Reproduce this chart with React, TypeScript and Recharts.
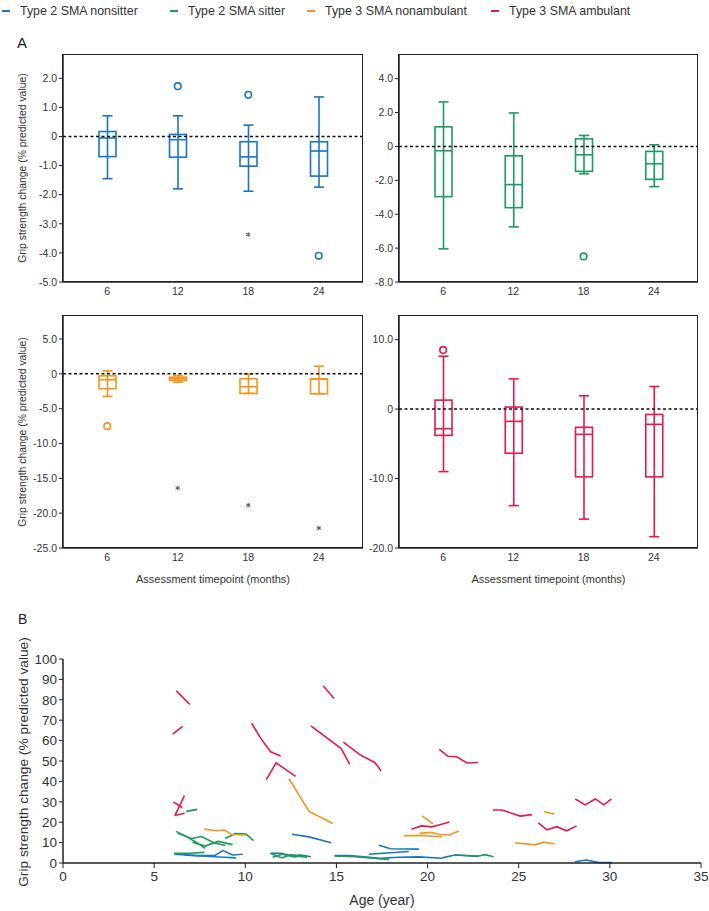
import React from 'react'
import {
  ComposedChart, Bar, Scatter, XAxis, YAxis, ReferenceLine,
  LineChart, Line,
} from 'recharts'

const FONT = '"Liberation Sans", Arial, sans-serif'
const AXIS = '#222'
const TEXT = '#333'

const BLUE = '#1a75c2'
const GREEN = '#1b9b5e'
const ORANGE = '#f7941d'
const RED = '#e8184d'

const groups = ['Type 2 SMA nonsitter', 'Type 2 SMA sitter', 'Type 3 SMA nonambulant', 'Type 3 SMA ambulant']
const groupColors = [BLUE, GREEN, ORANGE, RED]

// panel A: box plot stats per timepoint (months)
const timepoints = ['6', '12', '18', '24']

const nonsitterMin = [-1.45, -1.8, -1.88, -1.74]
const nonsitterQ1 = [-0.69, -0.71, -1.02, -1.36]
const nonsitterMed = [-0.05, -0.11, -0.7, -0.5]
const nonsitterQ3 = [0.17, 0.07, -0.18, -0.18]
const nonsitterMax = [0.71, 0.71, 0.39, 1.36]
const nonsitterCircles = [{ t: '12', v: 1.73 }, { t: '18', v: 1.43 }, { t: '24', v: -4.1 }]
const nonsitterStars = [{ t: '18', v: -3.37 }]

const sitterMin = [-6.04, -4.75, -1.61, -2.37]
const sitterQ1 = [-2.96, -3.61, -1.47, -1.94]
const sitterMed = [-0.25, -2.25, -0.49, -1.02]
const sitterQ3 = [1.16, -0.55, 0.45, -0.29]
const sitterMax = [2.63, 1.98, 0.65, 0.1]
const sitterCircles = [{ t: '18', v: -6.49 }]
const sitterStars: { t: string; v: number }[] = []

const nonambMin = [-3.24, -1.19, -2.81, -2.86]
const nonambQ1 = [-2.14, -0.95, -2.81, -2.86]
const nonambMed = [-0.86, -0.7, -1.86, -0.75]
const nonambQ3 = [-0.29, -0.48, -0.71, -0.71]
const nonambMax = [0.43, -0.25, -0.05, 1.1]
const nonambCircles = [{ t: '6', v: -7.52 }]
const nonambStars = [{ t: '12', v: -16.38 }, { t: '18', v: -18.86 }, { t: '24', v: -22.14 }]

const ambMin = [-9.0, -13.9, -15.84, -18.37]
const ambQ1 = [-3.78, -6.36, -9.76, -9.76]
const ambMed = [-2.82, -1.77, -3.64, -2.2]
const ambQ3 = [1.29, 0.29, -2.63, -0.77]
const ambMax = [7.61, 4.35, 1.91, 3.25]
const ambCircles = [{ t: '6', v: 8.52 }]
const ambStars: { t: string; v: number }[] = []

const ticksTL = [-5, -4, -3, -2, -1, 0, 1, 2]
const ticksTR = [-8, -6, -4, -2, 0, 2, 4]
const ticksBL = [-25, -20, -15, -10, -5, 0, 5]
const ticksBR = [-20, -10, 0, 10]

// panel B: individual trajectories [age, value]
type Pt = [number, number]
const nonsitterLines: Pt[][] = [
  [[6.12, 4.3], [7.4, 3.6], [8.31, 3.6], [8.77, 6.1], [9.31, 3.9], [9.86, 4.3]],
  [[6.67, 3.9], [7.76, 3.3], [8.86, 2.8], [9.5, 2.5]],
  [[11.37, 4.8], [11.96, 4.8], [12.5, 3.6], [13.05, 3.9], [13.6, 3.1]],
  [[12.56, 14.1], [13.5, 12.8], [14.71, 9.9]],
  [[14.9, 3.6], [15.7, 3.6], [16.5, 3.0], [17.4, 2.3], [18.4, 2.8], [19.5, 3.0], [20.8, 2.3]],
  [[20.8, 2.5], [21.5, 3.9], [22.8, 3.2]],
  [[16.78, 4.3], [18.97, 5.6]],
  [[17.33, 8.7], [17.97, 7.0], [19.52, 6.8]],
  [[28.08, 0.6], [28.69, 1.5], [29.36, 0.3], [30.13, 0.2]],
]
const sitterLines: Pt[][] = [
  [[6.76, 25.3], [7.36, 26.3]],
  [[6.2, 15.5], [6.8, 12.8], [7.3, 10.2], [7.8, 7.2]],
  [[6.3, 14.6], [7.05, 12.0], [7.6, 13.0], [8.3, 9.8], [8.9, 8.6]],
  [[7.1, 10.2], [7.8, 8.3], [8.5, 10.6], [9.3, 9.0]],
  [[8.9, 12.0], [9.45, 14.4], [10.05, 14.2], [10.45, 11.0]],
  [[6.09, 4.8], [6.94, 4.8], [7.76, 5.2]],
  [[11.4, 4.6], [12.0, 2.5], [12.5, 4.1], [13.0, 3.2], [13.4, 2.8]],
  [[11.5, 2.8], [12.0, 4.3], [12.7, 3.0], [13.3, 3.7]],
  [[14.9, 3.4], [16.06, 3.1], [17.33, 2.1], [17.88, 1.8]],
  [[21.52, 3.9], [22.8, 3.4], [23.16, 4.1], [23.62, 3.1]],
]
const nonambLines: Pt[][] = [
  [[12.4, 41.3], [13.5, 25.3], [14.8, 19.4]],
  [[7.75, 16.6], [8.4, 15.8], [8.85, 16.1], [9.25, 14.0], [10.05, 13.8]],
  [[19.7, 23.1], [20.3, 19.2]],
  [[18.7, 13.4], [19.56, 13.5], [20.8, 12.9]],
  [[19.56, 14.5], [20.16, 15.0], [20.7, 14.0], [21.21, 13.7], [21.71, 15.7]],
  [[24.8, 9.9], [25.9, 8.9], [26.35, 10.2], [26.94, 9.4]],
  [[26.39, 25.1], [26.94, 24.0]],
]
const ambLines: Pt[][] = [
  [[6.22, 84.4], [6.96, 77.7]],
  [[6.02, 63.2], [6.56, 67.0]],
  [[6.05, 30.0], [6.55, 27.1]],
  [[6.15, 23.5], [6.66, 33.0]],
  [[6.12, 23.3], [6.67, 24.4]],
  [[10.35, 68.5], [10.85, 61.1], [11.39, 54.5], [11.94, 52.4]],
  [[11.15, 40.9], [11.69, 49.1], [12.76, 42.5]],
  [[14.27, 86.9], [14.86, 80.8]],
  [[13.6, 67.2], [15.26, 56.1], [15.73, 48.4]],
  [[15.38, 59.2], [16.3, 53.0], [17.1, 49.3], [17.45, 45.2]],
  [[20.64, 55.7], [21.12, 52.3], [21.6, 52.1], [22.16, 49.0], [22.78, 49.3]],
  [[19.12, 16.6], [19.66, 18.2], [20.22, 17.7], [20.68, 18.8], [21.2, 20.1]],
  [[23.58, 26.0], [24.08, 26.0], [25.08, 23.0], [25.73, 23.7]],
  [[26.08, 19.7], [26.55, 16.3], [27.09, 17.8], [27.63, 15.8], [28.18, 18.2]],
  [[28.1, 31.4], [28.64, 28.5], [29.2, 31.4], [29.67, 28.5], [30.09, 31.4]],
]
const ageTicks = [0, 5, 10, 15, 20, 25, 30, 35]
const pctTicks = [0, 10, 20, 30, 40, 50, 60, 70, 80, 90, 100]

const yLabel = 'Grip strength change (% predicted value)'

const makeRows = (mn: number[], q1: number[], md: number[], q3: number[], mx: number[]) =>
  timepoints.map((t, i) => ({ t, min: mn[i], q1: q1[i], med: md[i], q3: q3[i], max: mx[i] }))

const fmt = (v: number) => (v === 0 ? '0' : v.toFixed(1))

const BoxShape = (props: any) => {
  const { x, y, width, height, payload, color } = props
  const top = Math.min(y, y + height)
  const h = Math.abs(height)
  const { min, max, q1, q3, med } = payload
  // the bar spans [min, max]; place quartiles on that same linear scale
  const py = (v: number) => top + (h * (max - v)) / (max - min)
  const cx = x + width / 2
  const cap = 5
  return (
    <g stroke={color} strokeWidth={1.6} fill="none">
      <line x1={cx} x2={cx} y1={top} y2={top + h} />
      <line x1={cx - cap} x2={cx + cap} y1={top} y2={top} />
      <line x1={cx - cap} x2={cx + cap} y1={top + h} y2={top + h} />
      <rect x={x} y={py(q3)} width={width} height={Math.max(py(q1) - py(q3), 0.5)} />
      <line x1={x} x2={x + width} y1={py(med)} y2={py(med)} />
    </g>
  )
}

const CircleShape = (props: any) => (
  <circle cx={props.cx} cy={props.cy} r={3.3} fill="#fff" stroke={props.color} strokeWidth={1.6} />
)

const StarShape = (props: any) => {
  const { cx, cy } = props
  const r = 2.2
  return (
    <g stroke="#555" strokeWidth={1}>
      <line x1={cx} x2={cx} y1={cy - r} y2={cy + r} />
      <line x1={cx - r} x2={cx + r} y1={cy - r * 0.6} y2={cy + r * 0.6} />
      <line x1={cx - r} x2={cx + r} y1={cy + r * 0.6} y2={cy - r * 0.6} />
    </g>
  )
}

interface PanelProps {
  rows: any[]
  circles: { t: string; v: number }[]
  stars: { t: string; v: number }[]
  color: string
  ticks: number[]
  domain: [number, number]
  left: number
  top: number
  width: number
  xLabel?: boolean
}

const BoxPanel = ({ rows, circles, stars, color, ticks, domain, left, top, width, xLabel }: PanelProps) => {
  const axisH = xLabel ? 36 : 20
  const plotH = xLabel ? 232 : 227
  const yW = 63
  const mTop = 5
  const mRight = 2
  return (
    <div style={{ position: 'absolute', left, top }}>
      <ComposedChart width={width} height={mTop + plotH + axisH + 2} data={rows}
        margin={{ top: mTop, right: mRight, bottom: 2, left: 0 }}>
        <XAxis dataKey="t" type="category" allowDuplicatedCategory={false}
          padding={{ left: 9, right: 9 }} height={axisH}
          axisLine={{ stroke: AXIS, strokeWidth: 1.5 }} tickLine={false} tickSize={4} tickMargin={2}
          tick={{ fill: TEXT, fontSize: 10.5, fontFamily: FONT }}
          label={xLabel ? { value: 'Assessment timepoint (months)', position: 'insideBottom', offset: 1, fill: TEXT, fontSize: 11, fontFamily: FONT } : undefined} />
        <YAxis type="number" domain={domain} ticks={ticks} allowDataOverflow width={yW}
          axisLine={{ stroke: AXIS, strokeWidth: 1.5 }} tickLine={{ stroke: AXIS }} tickSize={4} tickMargin={2}
          tickFormatter={fmt} interval={0}
          tick={{ fill: TEXT, fontSize: 10.5, fontFamily: FONT }} />
        <ReferenceLine y={0} stroke="#111" strokeWidth={1.5} strokeDasharray="3 2.5" />
        <Bar dataKey={(d: any) => [d.min, d.max]} barSize={17} isAnimationActive={false}
          shape={(p: any) => <BoxShape {...p} color={color} />} />
        <Scatter data={circles} dataKey="v" isAnimationActive={false}
          shape={(p: any) => <CircleShape {...p} color={color} />} />
        <Scatter data={stars} dataKey="v" isAnimationActive={false} shape={(p: any) => <StarShape {...p} />} />
      </ComposedChart>
      {/* frame around the plot area */}
      <div style={{
        position: 'absolute', left: yW - 0.75, top: mTop - 0.75,
        width: width - yW - mRight - 1.5, height: plotH - 1.5,
        border: `1.5px solid ${AXIS}`, pointerEvents: 'none',
      }} />
    </div>
  )
}

const RotLabel = ({ x, y, size, text }: { x: number; y: number; size: number; text: string }) => (
  <div style={{
    position: 'absolute', left: x, top: y, transform: 'translate(-50%, -50%) rotate(-90deg)',
    whiteSpace: 'nowrap', fontSize: size, fontFamily: FONT, color: TEXT,
  }}>{text}</div>
)

const legendX = [2, 170, 307, 491]

export default function App() {
  const allLines = [nonsitterLines, sitterLines, nonambLines, ambLines]
  return (
    <div style={{ position: 'absolute', left: 0, top: 0, width: 709, height: 911, background: '#fff', fontFamily: FONT }}>
      {groups.map((g, i) => (
        <div key={g} style={{ position: 'absolute', left: legendX[i], top: 4, display: 'flex', alignItems: 'center', fontSize: 12.4, color: TEXT, whiteSpace: 'nowrap' }}>
          <span style={{ display: 'inline-block', width: 8, height: 2, background: groupColors[i], marginRight: 10 }} />
          {g}
        </div>
      ))}

      <div style={{ position: 'absolute', left: 17, top: 34, fontSize: 15, color: '#222' }}>A</div>
      <RotLabel x={22} y={168} size={10.4} text={yLabel} />
      <RotLabel x={22} y={432} size={10.4} text={yLabel} />

      <BoxPanel rows={makeRows(nonsitterMin, nonsitterQ1, nonsitterMed, nonsitterQ3, nonsitterMax)}
        circles={nonsitterCircles} stars={nonsitterStars} color={BLUE} ticks={ticksTL} domain={[-5, 2.8]}
        left={0} top={50} width={365} />
      <BoxPanel rows={makeRows(sitterMin, sitterQ1, sitterMed, sitterQ3, sitterMax)}
        circles={sitterCircles} stars={sitterStars} color={GREEN} ticks={ticksTR} domain={[-8, 5.4]}
        left={336} top={50} width={364} />
      <BoxPanel rows={makeRows(nonambMin, nonambQ1, nonambMed, nonambQ3, nonambMax)}
        circles={nonambCircles} stars={nonambStars} color={ORANGE} ticks={ticksBL} domain={[-25, 8.3]}
        left={0} top={311} width={365} xLabel />
      <BoxPanel rows={makeRows(ambMin, ambQ1, ambMed, ambQ3, ambMax)}
        circles={ambCircles} stars={ambStars} color={RED} ticks={ticksBR} domain={[-20, 13.4]}
        left={336} top={311} width={364} xLabel />

      <div style={{ position: 'absolute', left: 18, top: 611, fontSize: 14, color: '#222' }}>B</div>
      <RotLabel x={23} y={762} size={13.7} text={yLabel} />
      <div style={{ position: 'absolute', left: 0, top: 650 }}>
        <LineChart width={709} height={259} margin={{ top: 9, right: 8, bottom: 4, left: 0 }}>
          <XAxis type="number" dataKey="age" domain={[0, 35]} ticks={ageTicks} interval={0} height={42}
            axisLine={{ stroke: AXIS, strokeWidth: 1.5 }} tickLine={{ stroke: AXIS }} tickSize={5} tickMargin={3}
            tick={{ fill: TEXT, fontSize: 13.5, fontFamily: FONT }}
            label={{ value: 'Age (year)', position: 'insideBottom', offset: 0, fill: TEXT, fontSize: 14, fontFamily: FONT }} />
          <YAxis type="number" dataKey="v" domain={[0, 100]} ticks={pctTicks} interval={0} width={63}
            axisLine={{ stroke: AXIS, strokeWidth: 1.5 }} tickLine={{ stroke: AXIS }} tickSize={4} tickMargin={2}
            tick={{ fill: TEXT, fontSize: 13.5, fontFamily: FONT }} />
          {allLines.map((lines, gi) =>
            lines.map((pts, li) => (
              <Line key={`${gi}-${li}`} data={pts.map(([age, v]) => ({ age, v }))} dataKey="v"
                stroke={groupColors[gi]} strokeWidth={1.6} dot={false} isAnimationActive={false} />
            ))
          )}
        </LineChart>
      </div>
    </div>
  )
}
